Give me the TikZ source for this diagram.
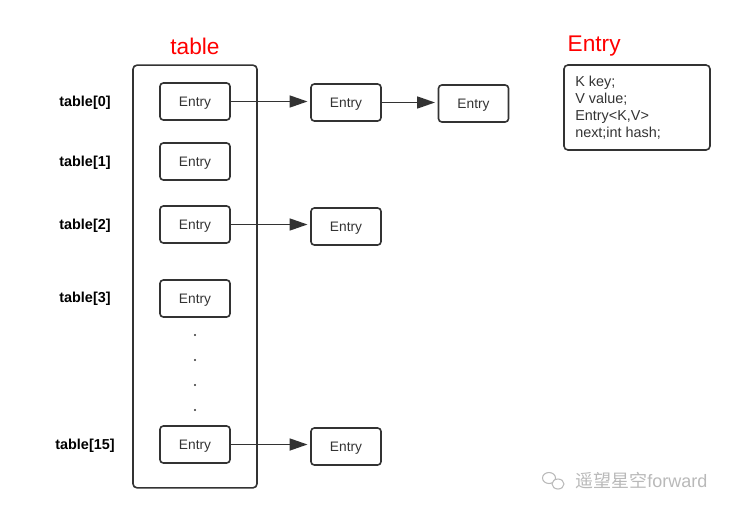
\documentclass[tikz,border=0pt]{standalone}
\usepackage{fontspec}
\setmainfont{Liberation Sans}
\newfontfamily\cjkfont{Noto Sans CJK SC}
\usetikzlibrary{arrows.meta}
\definecolor{boxline}{HTML}{333333}
\definecolor{titlered}{HTML}{FF0000}
\tikzset{
  entrybox/.style={draw=boxline, line width=1.2pt, rounded corners=2.5pt, minimum width=52.5pt, minimum height=27.75pt, inner sep=0pt, text depth=0pt, font=\fontsize{10.3}{12}\selectfont, text=boxline},
  link/.style={draw=boxline, line width=1.3pt, -{Triangle[length=13.5pt,width=9pt]}, shorten >=2pt},
  rowlabel/.style={font=\fontsize{10.8}{12}\selectfont\bfseries, text=black},
  title/.style={font=\fontsize{17}{20}\selectfont, text=titlered},
  dotmark/.style={circle, fill=boxline, inner sep=0pt, minimum size=1.8pt}
}
\begin{document}
\begin{tikzpicture}[x=0.75pt,y=-0.75pt]
\useasboundingbox (0,0) rectangle (735,514);
% titles
\node[title] (ttable) at (195,46) {table};
\node[title, anchor=west] (tentry) at (563,46) {Entry};
% container
\node[draw=boxline, line width=1.2pt, rounded corners=3pt, minimum width=93pt, minimum height=317pt, inner sep=0pt] (container) at (195,276.5) {};
% table entries
\node[entrybox] (e0) at (195,101.5) {Entry};
\node[entrybox] (e1) at (195,161.5) {Entry};
\node[entrybox] (e2) at (195,224.5) {Entry};
\node[entrybox] (e3) at (195,298.5) {Entry};
\node[entrybox] (e15) at (195,444.5) {Entry};
% labels
\node[rowlabel] (l0) at (85,103) {table[0]};
\node[rowlabel] (l1) at (85,163) {table[1]};
\node[rowlabel] (l2) at (85,226) {table[2]};
\node[rowlabel] (l3) at (85,299) {table[3]};
\node[rowlabel] (l15) at (85,446) {table[15]};
% dots
\node[dotmark] (d1) at (195,335) {};
\node[dotmark] (d2) at (195,360) {};
\node[dotmark] (d3) at (195,385) {};
\node[dotmark] (d4) at (195,410) {};
% chained entries
\node[entrybox] (c0a) at (346,102.5) {Entry};
\node[entrybox] (c0b) at (473.5,103.5) {Entry};
\node[entrybox] (c2) at (346,226.5) {Entry};
\node[entrybox] (c15) at (346,446.5) {Entry};
% arrows
\draw[link] (e0.east) -- (e0.east -| c0a.west);
\draw[link] (c0a.east) -- (c0a.east -| c0b.west);
\draw[link] (e2.east) -- (e2.east -| c2.west);
\draw[link] (e15.east) -- (e15.east -| c15.west);
% entry definition box
\node[draw=boxline, line width=1.2pt, rounded corners=3pt, minimum width=109.5pt, minimum height=63.75pt, inner sep=0pt] (def) at (637,107.5) {};
\node[anchor=north west, align=left, inner sep=0pt, font=\fontsize{10.8}{12.75}\selectfont, text=boxline] (deftext) at (575,76) {K key;\\V value;\\Entry<K,V>\\next;int hash;};
% watermark
\node[anchor=west, inner sep=0pt, text=gray!55, font=\fontsize{13.5}{16}\selectfont] (wm) at (575,481) {{\cjkfont 遥望星空}forward};
\draw[gray!55, line width=0.8pt] (549,478) ellipse (6.5 and 5.5);
\draw[gray!55, line width=0.8pt, fill=white] (558,484) ellipse (6 and 5);
\end{tikzpicture}
\end{document}
